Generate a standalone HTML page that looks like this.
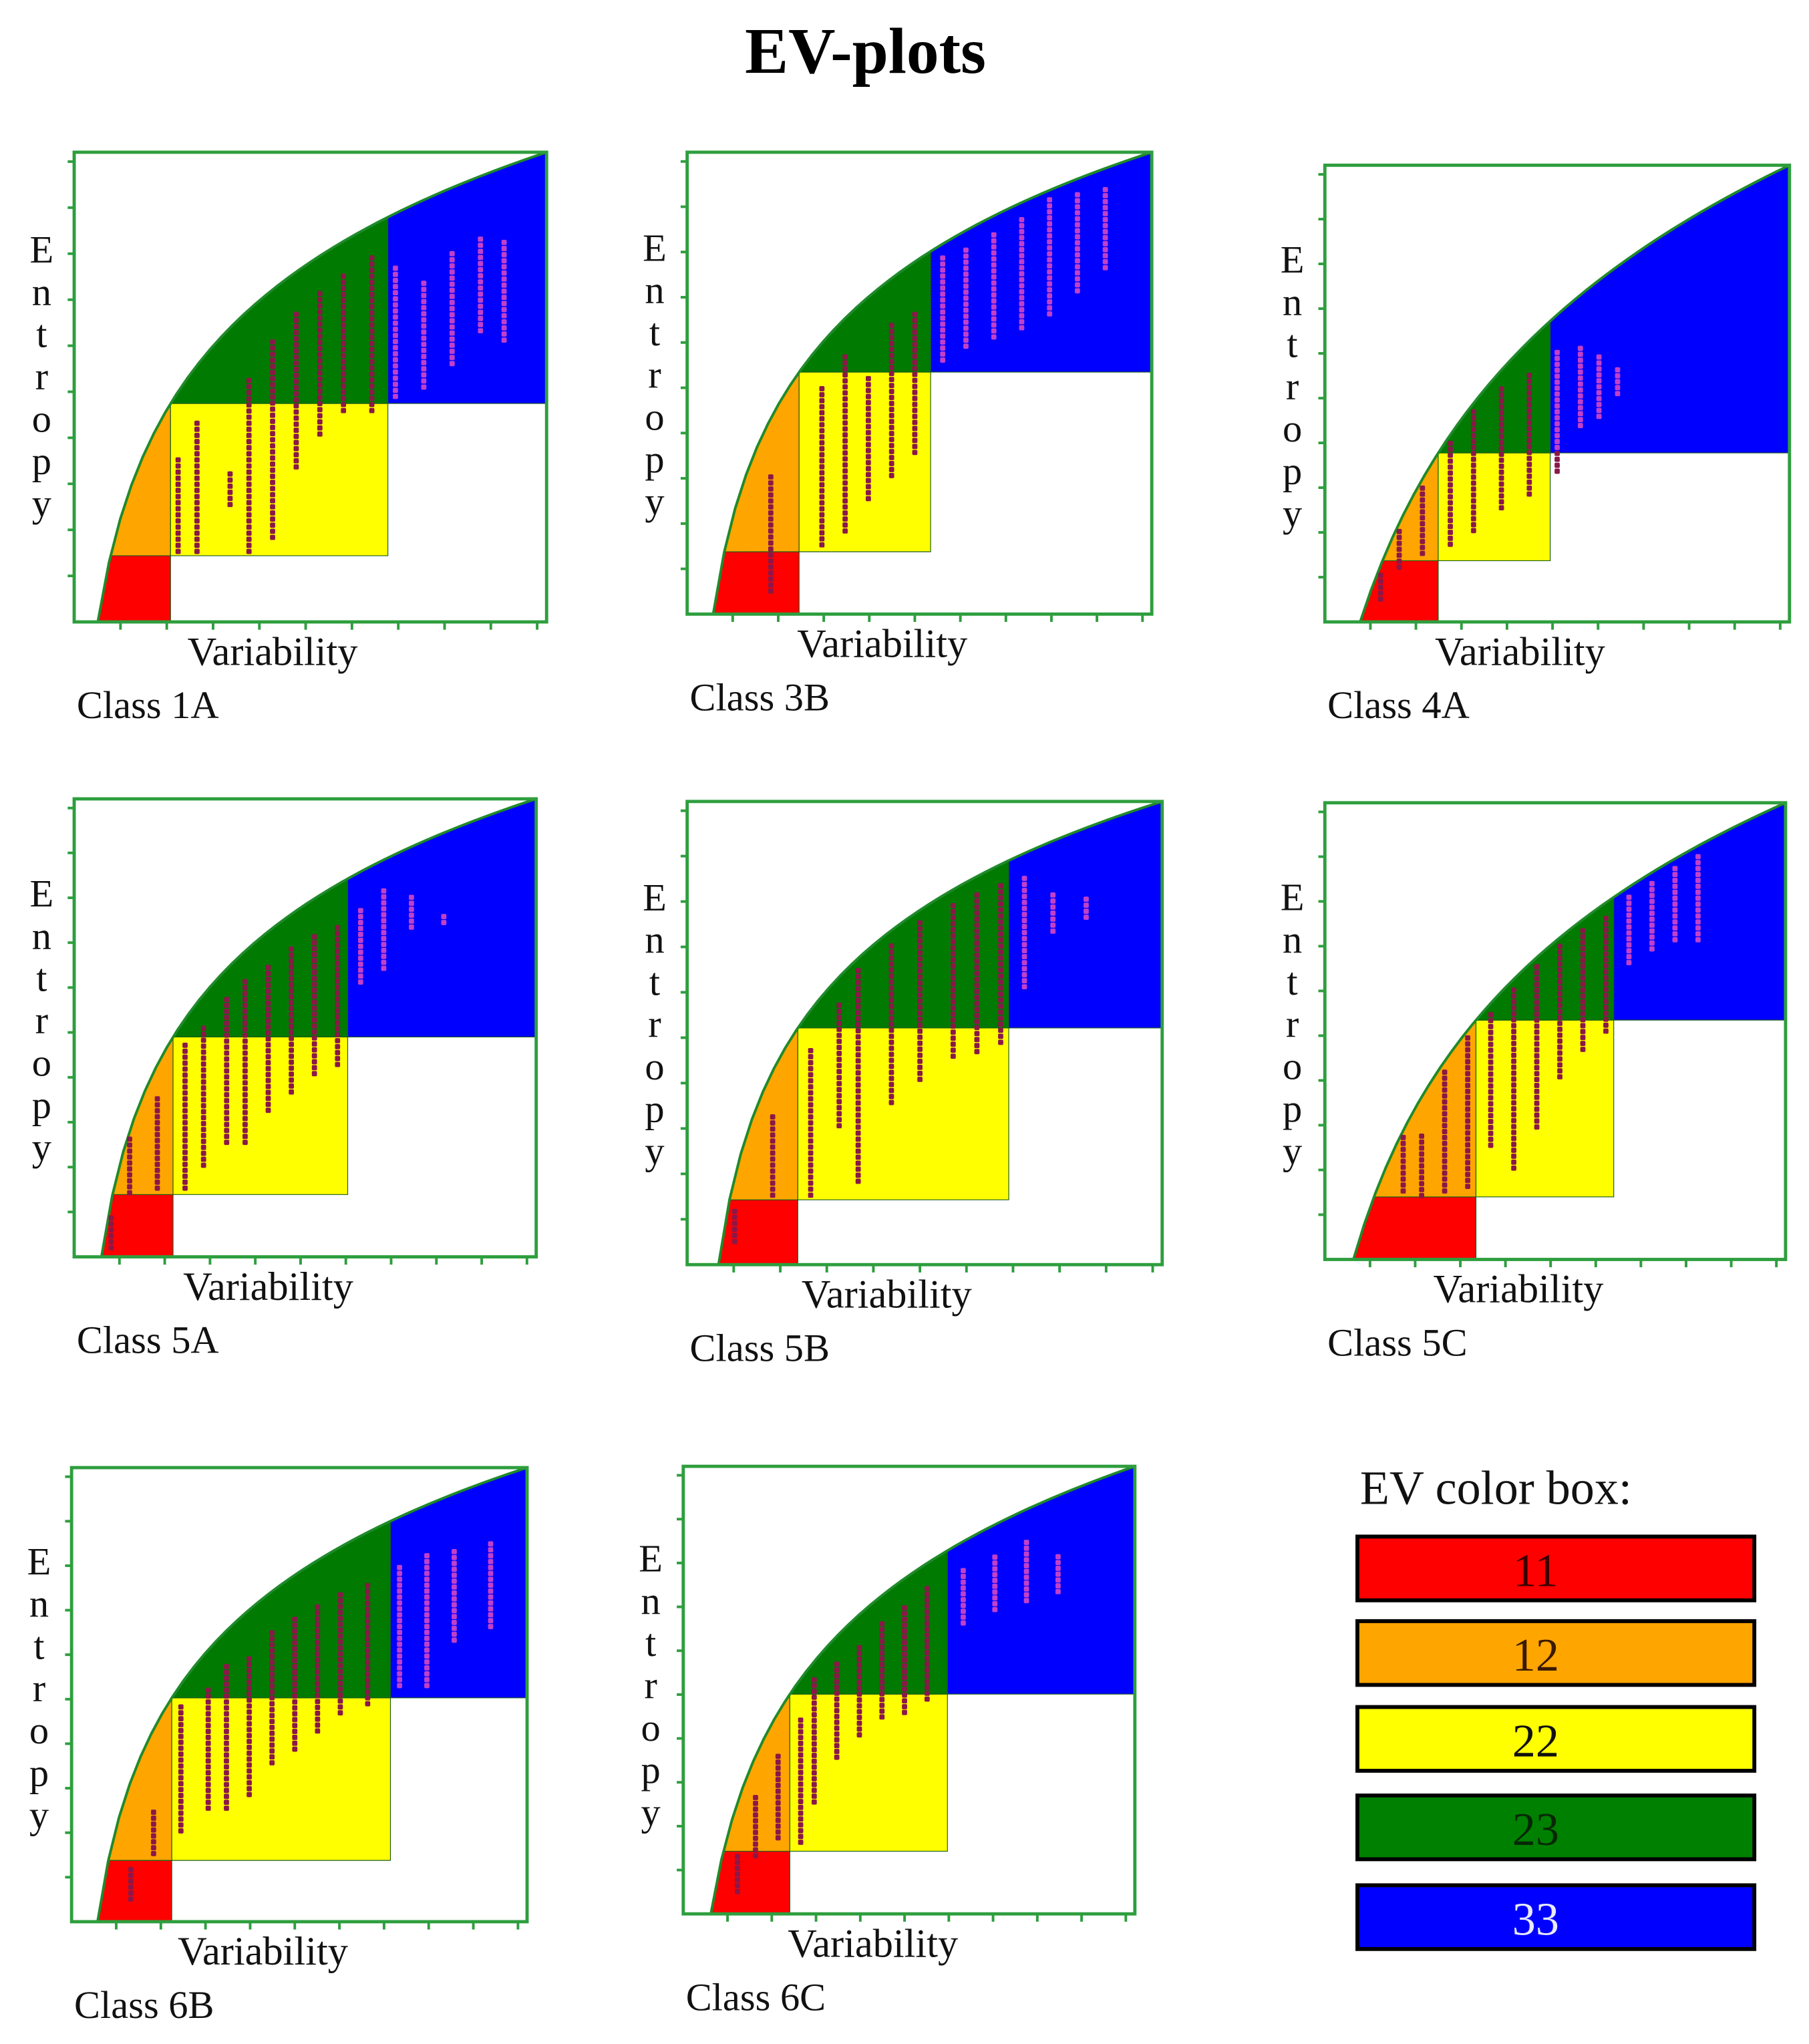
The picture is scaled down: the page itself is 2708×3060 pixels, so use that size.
<!DOCTYPE html>
<html><head><meta charset="utf-8"><style>
html,body{margin:0;padding:0;background:#fff;}
svg{display:block;}
text{font-family:"Liberation Serif",serif;}
</style></head><body>
<svg id="chart" width="2708" height="3060" viewBox="0 0 1390 1571" preserveAspectRatio="none" xmlns="http://www.w3.org/2000/svg">
<rect width="1390" height="1571" fill="#fff"/>
<text x="665" y="56" text-anchor="middle" font-size="50" font-weight="bold" fill="#000">EV-plots</text>
<g id="panels"></g>
<g id="legend"></g>
</svg>
<script>
const panelNames = ["Class 1A","Class 3B","Class 4A","Class 5A","Class 5B","Class 5C","Class 6B","Class 6C"];
const panelFrames = [[57,117,420,478],[528,117,885,472],[1018,127,1375,478],[57,614,412,966],[528,616,893,972],[1018,617,1372,968],[55,1128,405,1477],[525,1127,872,1471]];
// [curveStartX, split1X, split2X, redTopY, yellowTopY] in data units (0..10)
const panelBounds = [
 [0.50,2.04,6.64,1.41,4.65],
 [0.56,2.41,5.24,1.35,5.24],
 [0.76,2.44,4.85,1.34,3.70],
 [0.59,2.14,5.92,1.36,4.80],
 [0.66,2.33,6.77,1.40,5.11],
 [0.62,3.28,6.27,1.37,5.24],
 [0.57,2.20,7.00,1.35,4.93],
 [0.61,2.36,5.85,1.40,4.91]
];
// dot strips: [x, yFrom, yTo]
const panelDots = [
 [[2.2,1.5,3.5],[2.6,1.5,4.3],[3.3,2.5,3.2],[3.7,1.5,5.2],[4.2,1.8,6.0],[4.7,3.3,6.6],[5.2,4.0,7.0],[5.7,4.5,7.4],[6.3,4.5,7.8],[6.8,4.8,7.6],[7.4,5.0,7.3],[8.0,5.5,7.9],[8.6,6.2,8.2],[9.1,6.0,8.2]],
 [[1.8,0.5,3.0],[2.9,1.5,5.0],[3.4,1.8,5.6],[3.9,2.5,5.2],[4.4,3.0,6.3],[4.9,3.5,6.6],[5.5,5.5,7.8],[6.0,5.8,8.0],[6.6,6.0,8.3],[7.2,6.2,8.6],[7.8,6.5,9.0],[8.4,7.0,9.1],[9.0,7.5,9.2]],
 [[1.2,0.5,1.5],[1.6,1.2,3.3],[2.1,1.5,3.6],[2.7,1.7,4.6],[3.2,2.0,4.8],[3.8,2.5,5.2],[4.4,2.8,5.5],[5.0,3.3,5.9],[5.5,4.3,6.0],[5.9,4.5,5.8],[6.3,5.0,5.6]],
 [[0.8,0.2,0.9],[1.2,1.4,2.7],[1.8,1.5,3.5],[2.4,1.5,4.7],[2.8,2.0,5.0],[3.3,2.5,5.7],[3.7,2.5,6.1],[4.2,3.2,6.4],[4.7,3.6,6.8],[5.2,4.0,7.1],[5.7,4.2,7.3],[6.2,6.0,7.6],[6.7,6.3,8.0],[7.3,7.2,7.9],[8.0,7.3,7.5]],
 [[1.0,0.5,1.2],[1.8,1.5,3.2],[2.6,1.5,4.7],[3.2,3.0,5.7],[3.6,1.8,6.5],[4.3,3.5,6.9],[4.9,4.0,7.5],[5.6,4.5,7.8],[6.1,4.6,8.1],[6.6,4.8,8.3],[7.1,6.0,8.4],[7.7,7.2,8.1],[8.4,7.5,8.0]],
 [[0.8,0.5,1.3],[1.7,1.5,2.7],[2.1,1.4,2.8],[2.6,1.5,4.9],[3.1,1.6,5.2],[3.6,2.5,5.7],[4.1,2.0,6.0],[4.6,2.9,6.5],[5.1,4.0,6.9],[5.6,4.6,7.3],[6.1,5.0,7.5],[6.6,6.5,8.3],[7.1,6.8,8.6],[7.6,7.0,8.8],[8.1,7.0,9.0]],
 [[1.3,0.5,1.2],[1.8,1.5,2.5],[2.4,2.0,4.8],[3.0,2.5,5.2],[3.4,2.5,5.7],[3.9,2.8,5.9],[4.4,3.5,6.4],[4.9,3.8,6.7],[5.4,4.2,7.0],[5.9,4.6,7.3],[6.5,4.8,7.5],[7.2,5.2,7.8],[7.8,5.2,8.1],[8.4,6.2,8.2],[9.2,6.5,8.4]],
 [[1.2,0.5,1.3],[1.6,1.3,2.7],[2.1,1.7,3.6],[2.6,1.6,4.4],[2.9,2.5,5.3],[3.4,3.5,5.6],[3.9,4.0,6.0],[4.4,4.4,6.6],[4.9,4.5,6.9],[5.4,4.8,7.3],[6.2,6.5,7.7],[6.9,6.8,8.0],[7.6,7.0,8.3],[8.3,7.2,8.1]]
];
const legendLabels = ["11","12","22","23","33"];
const legendFills = ["#ff0000","#ffa500","#ffff00","#008000","#0000ff"];
const legendTextColors = ["#3a0000","#3a1a00","#111","#062806","#e8e8ff"];

const NS = "http://www.w3.org/2000/svg";
function mk(tag, attrs, parent){const e=document.createElementNS(NS,tag);for(const k in attrs)e.setAttribute(k,attrs[k]);parent.appendChild(e);return e;}
const root = document.getElementById("panels");

panelFrames.forEach((f,i)=>{
  const [L,T,R,B]=f, b=panelBounds[i];
  const sx=v=>L+(R-L)*v/10, sy=v=>B-(B-T)*v/10;
  const x0=b[0], s1=b[1], s2=b[2], rt=b[3], yt=b[4];
  // log curve y = 10*ln(1+k u)/ln(1+k), solve k so it passes (s1, yt)
  const u1=(s1-x0)/(10-x0), target=yt/10;
  const fk=k=>Math.log(1+k*u1)/Math.log(1+k);
  let lo=0.01, hi=5000;
  for(let it=0;it<80;it++){const m=Math.sqrt(lo*hi); if(fk(m)<target) lo=m; else hi=m;}
  const K=Math.sqrt(lo*hi);
  const cy=x=>{const u=Math.max(0,(x-x0)/(10-x0));return 10*Math.log(1+K*u)/Math.log(1+K);};
  const cxAt=y=>x0+(10-x0)*(Math.exp(y/10*Math.log(1+K))-1)/K;
  const g=mk("g",{},root);
  
  
  const curvePts=(a,c)=>{let s=[];for(let k=0;k<=40;k++){const x=a+(c-a)*k/40;s.push(sx(x).toFixed(2)+","+sy(cy(x)).toFixed(2));}return s;};
  const poly=(pts,fill,name)=>{const e=mk("polygon",{points:pts.join(" "),fill:fill,stroke:"#1a5e1a","stroke-width":"0.6"},g);
    };
  const xr=cxAt(rt);
  poly([sx(x0)+","+sy(0)].concat(curvePts(x0,xr),[sx(s1)+","+sy(rt),sx(s1)+","+sy(0)]),"#ff0000","region-11");
  poly(curvePts(xr,s1).concat([sx(s1)+","+sy(rt)]),"#ffa500","region-12");
  poly([sx(s1)+","+sy(yt),sx(s2)+","+sy(yt),sx(s2)+","+sy(rt),sx(s1)+","+sy(rt)],"#ffff00","region-22");
  poly(curvePts(s1,s2).concat([sx(s2)+","+sy(yt)]),"#007a00","region-23");
  poly(curvePts(s2,10).concat([sx(10)+","+sy(yt),sx(s2)+","+sy(yt)]),"#0000ff","region-33");
  const cl=mk("polyline",{points:curvePts(x0,10).join(" "),fill:"none",stroke:"#1f8a2a","stroke-width":"2"},g);
  
  panelDots[i].forEach(d=>{
    for(let y=d[1];y<=d[2]+0.001;y+=0.13){
      if(y>cy(d[0])-0.15) continue;
      const inBlue=d[0]>s2&&y>yt;
      const c=mk("rect",{x:(sx(d[0])-2).toFixed(2),y:(sy(y)-2).toFixed(2),width:4,height:4,rx:1,fill:inBlue?"#c040c8":"#8a1848"},g);
      
      
    }
  });
  const fr=mk("rect",{x:L,y:T,width:R-L,height:B-T,fill:"none",stroke:"#2e9e3e","stroke-width":"2.5"},g);
  
  for(let k=1;k<=10;k++){
    const t=mk("line",{x1:L-5,x2:L,y1:sy(k*0.98),y2:sy(k*0.98),stroke:"#2e9e3e","stroke-width":"2"},g);
    
    const u=mk("line",{x1:sx(k*0.98),x2:sx(k*0.98),y1:B,y2:B+6,stroke:"#2e9e3e","stroke-width":"2"},g);
    
  }
  const letters="Entropy".split("");
  const ya=mk("text",{x:L-25,"text-anchor":"middle","font-size":"30",fill:"#111"},g);
  
  const yStart=T+(B-T)*0.235;
  letters.forEach((ch,k)=>{const ts=mk("tspan",{x:L-25,y:yStart+k*32.5},ya);ts.textContent=ch;});
  const xa=mk("text",{x:L+(R-L)*0.42,y:B+33,"text-anchor":"middle","font-size":"31",fill:"#111"},g);
  xa.textContent="Variability";
  
  const cl2=mk("text",{x:L+2,y:B+74,"font-size":"30",fill:"#111"},g);
  cl2.textContent=panelNames[i];
  
});

const lg=document.getElementById("legend");
const lt=mk("text",{x:1045,y:1156,"font-size":"37",fill:"#111"},lg);
lt.textContent="EV color box:";

const legendY=[1181,1246,1312,1380,1449];
legendLabels.forEach((lab,k)=>{
  const r=mk("rect",{x:1043,y:legendY[k],width:305,height:49,fill:legendFills[k],stroke:"#000","stroke-width":"3"},lg);
  
  const t=mk("text",{x:1180,y:legendY[k]+38,"text-anchor":"middle","font-size":"36",fill:legendTextColors[k]},lg);
  t.textContent=lab;
  
});
</script>
</body></html>
